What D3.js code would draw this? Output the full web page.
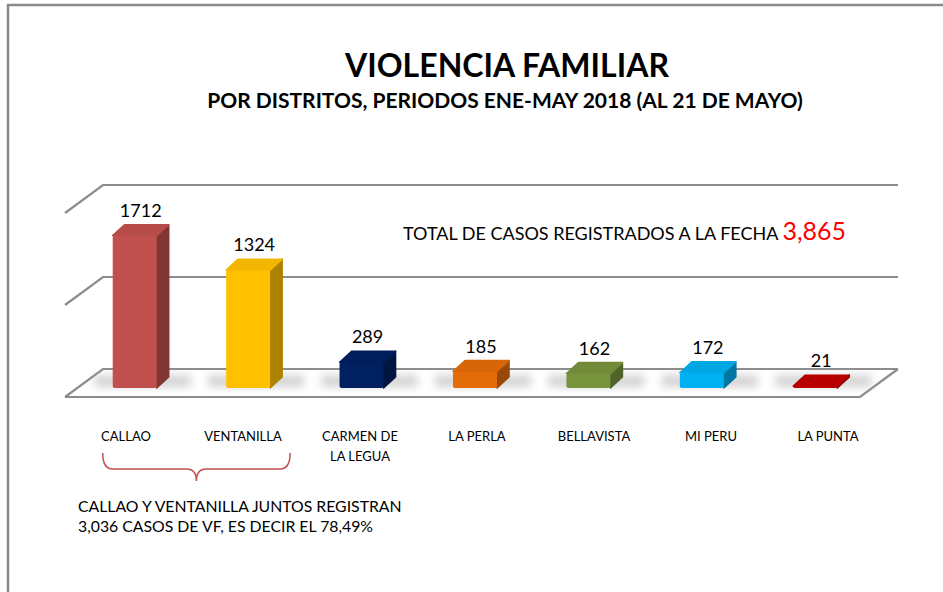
<!DOCTYPE html>
<html>
<head>
<meta charset="utf-8">
<script src="https://cdn.jsdelivr.net/npm/d3@7"></script>
<style>
  body { margin: 0; background: #fff; }
  svg text { font-family: Lato, "Open Sans", sans-serif; }
</style>
</head>
<body>
<div id="chart"></div>
<script>
// Datos: casos de violencia familiar por distrito
const distritos = ["CALLAO", "VENTANILLA", "CARMEN DE LA LEGUA", "LA PERLA", "BELLAVISTA", "MI PERU", "LA PUNTA"];
const etiquetas = [["CALLAO"], ["VENTANILLA"], ["CARMEN DE", "LA LEGUA"], ["LA PERLA"], ["BELLAVISTA"], ["MI PERU"], ["LA PUNTA"]];
const casos = [1712, 1324, 289, 185, 162, 172, 21];
const colores = ["#C0504D", "#FFC000", "#002060", "#E36C09", "#77933C", "#00B0F0", "#C00000"];
const ticks = [0, 1000, 2000];
const notaLineas = ["CALLAO Y VENTANILLA JUNTOS REGISTRAN", "3,036 CASOS DE VF, ES DECIR EL 78,49%"];

const width = 943;
const height = 592;

const svg = d3.select("#chart")
    .append("svg")
    .attr("width", width)
    .attr("height", height);

const defs = svg.append("defs");
defs.append("filter").attr("id", "sombra")
    .attr("x", "-50%").attr("y", "-50%").attr("width", "200%").attr("height", "200%")
    .append("feGaussianBlur").attr("stdDeviation", 4);

// Marco
svg.append("rect")
    .attr("x", 8).attr("y", 5)
    .attr("width", 960).attr("height", 620)
    .attr("fill", "none")
    .attr("stroke", "#8a8a8a")
    .attr("stroke-width", 2.5);

// Titulos
svg.append("text")
    .attr("x", 507).attr("y", 77)
    .attr("text-anchor", "middle")
    .style("font-size", "32px").style("font-weight", "bold")
    .text("VIOLENCIA FAMILIAR");

svg.append("text")
    .attr("x", 505).attr("y", 108)
    .attr("text-anchor", "middle")
    .style("font-size", "21px").style("font-weight", "bold")
    .text("POR DISTRITOS, PERIODOS ENE-MAY 2018 (AL 21 DE MAYO)");

// Geometria 3D
const pared = {x0: 103, x1: 898};      // pared de fondo
const prof = {dx: 38, dy: 28};         // profundidad del piso
const barDepth = {dx: 12, dy: 11};

// escala del fondo (lineas de division)
const y = d3.scaleLinear().domain([0, 2000]).range([369, 185]);
// escala en el plano de las barras (mitad del piso)
const yBar = d3.scaleLinear().domain([0, 2000]).range([388, 210]);

const x = d3.scaleBand()
    .domain(distritos)
    .range([78, 872])
    .paddingInner(0.612)
    .paddingOuter(0.306);

// etiquetas sobre el borde frontal del piso
const xLab = d3.scalePoint()
    .domain(distritos)
    .range([126, 828]);

const color = d3.scaleOrdinal().domain(distritos).range(colores);

// Lineas de division (pared de fondo + pared lateral)
const grid = svg.append("g")
    .attr("stroke", "#8c8c8c")
    .attr("stroke-width", 2.2)
    .attr("fill", "none");

ticks.forEach(t => {
    grid.append("path")
        .attr("d", `M${pared.x0 - prof.dx},${y(t) + prof.dy} L${pared.x0},${y(t)} L${pared.x1},${y(t)}`);
});

// Piso
grid.append("path")
    .attr("d", `M${pared.x0 - prof.dx},${y(0) + prof.dy} L${pared.x1 - prof.dx},${y(0) + prof.dy} L${pared.x1},${y(0)}`);

// Sombras de las barras
svg.append("g").selectAll("rect")
    .data(distritos)
    .enter()
    .append("rect")
    .attr("x", d => x(d) - 18)
    .attr("y", yBar(0) - 13)
    .attr("width", x.bandwidth() + barDepth.dx + 40)
    .attr("height", 12)
    .attr("fill", "#a8a8a8")
    .attr("opacity", 0.5)
    .attr("filter", "url(#sombra)");

// Barras 3D
const barras = svg.append("g").selectAll("g")
    .data(distritos)
    .enter()
    .append("g");

barras.each(function (d, i) {
    const g = d3.select(this);
    const x0 = x(d);
    const x1 = x0 + x.bandwidth();
    const top = yBar(casos[i]);
    const bottom = yBar(0);
    const base = d3.color(color(d));

    // lado
    g.append("path")
        .attr("d", `M${x1},${top} L${x1 + barDepth.dx},${top - barDepth.dy} L${x1 + barDepth.dx},${bottom - barDepth.dy} L${x1},${bottom} Z`)
        .attr("fill", base.darker(1.1))
        .attr("stroke", base.darker(1.1))
        .attr("stroke-linejoin", "round")
        .attr("stroke-width", 1.5);

    // cara superior
    g.append("path")
        .attr("d", `M${x0},${top} L${x0 + barDepth.dx},${top - barDepth.dy} L${x1 + barDepth.dx},${top - barDepth.dy} L${x1},${top} Z`)
        .attr("fill", base.darker(0.15))
        .attr("stroke", base.darker(0.15))
        .attr("stroke-linejoin", "round")
        .attr("stroke-width", 1.5);

    // cara frontal
    g.append("rect")
        .attr("x", x0)
        .attr("y", top)
        .attr("width", x.bandwidth())
        .attr("height", Math.max(bottom - top, 0))
        .attr("rx", 2)
        .attr("fill", base);
});

// Valores
svg.append("g").selectAll("text")
    .data(distritos)
    .enter()
    .append("text")
    .attr("x", d => x(d) + x.bandwidth() / 2 + barDepth.dx / 2)
    .attr("y", (d, i) => yBar(casos[i]) - barDepth.dy - 8)
    .attr("text-anchor", "middle")
    .style("font-size", "18px")
    .text((d, i) => casos[i]);

// Etiquetas del eje
const ejeX = svg.append("g").selectAll("text")
    .data(distritos)
    .enter()
    .append("text")
    .attr("y", 441)
    .attr("text-anchor", "middle")
    .style("font-size", "13px");

ejeX.each(function (d, i) {
    etiquetas[i].forEach((linea, j) => {
        d3.select(this).append("tspan")
            .attr("x", xLab(d))
            .attr("dy", j === 0 ? 0 : 20)
            .text(linea);
    });
});

// Total
const total = svg.append("text")
    .attr("x", 403).attr("y", 240)
    .style("font-size", "18px");
total.append("tspan").text("TOTAL DE CASOS REGISTRADOS A LA FECHA ");
total.append("tspan")
    .attr("fill", "#ff0000")
    .style("font-size", "25px")
    .text(d3.format(",")(d3.sum(casos)));

// Llave Callao + Ventanilla
const bx0 = x(distritos[0]) - 10;
const bx1 = x(distritos[1]) + x.bandwidth() + 20;
const bm = (bx0 + bx1) / 2;
svg.append("path")
    .attr("d", `M${bx0},453 Q${bx0},469 ${bx0 + 10},469 L${bm - 10},469 Q${bm},469 ${bm},481 Q${bm},469 ${bm + 10},469 L${bx1 - 10},469 Q${bx1},469 ${bx1},453`)
    .attr("fill", "none")
    .attr("stroke", "#C0504D")
    .attr("stroke-width", 1.5);

const nota = svg.append("text")
    .attr("x", 78).attr("y", 512)
    .style("font-size", "15.8px");
notaLineas.forEach((linea, j) => {
    nota.append("tspan")
        .attr("x", 78)
        .attr("dy", j === 0 ? 0 : 20)
        .text(linea);
});
</script>
</body>
</html>
